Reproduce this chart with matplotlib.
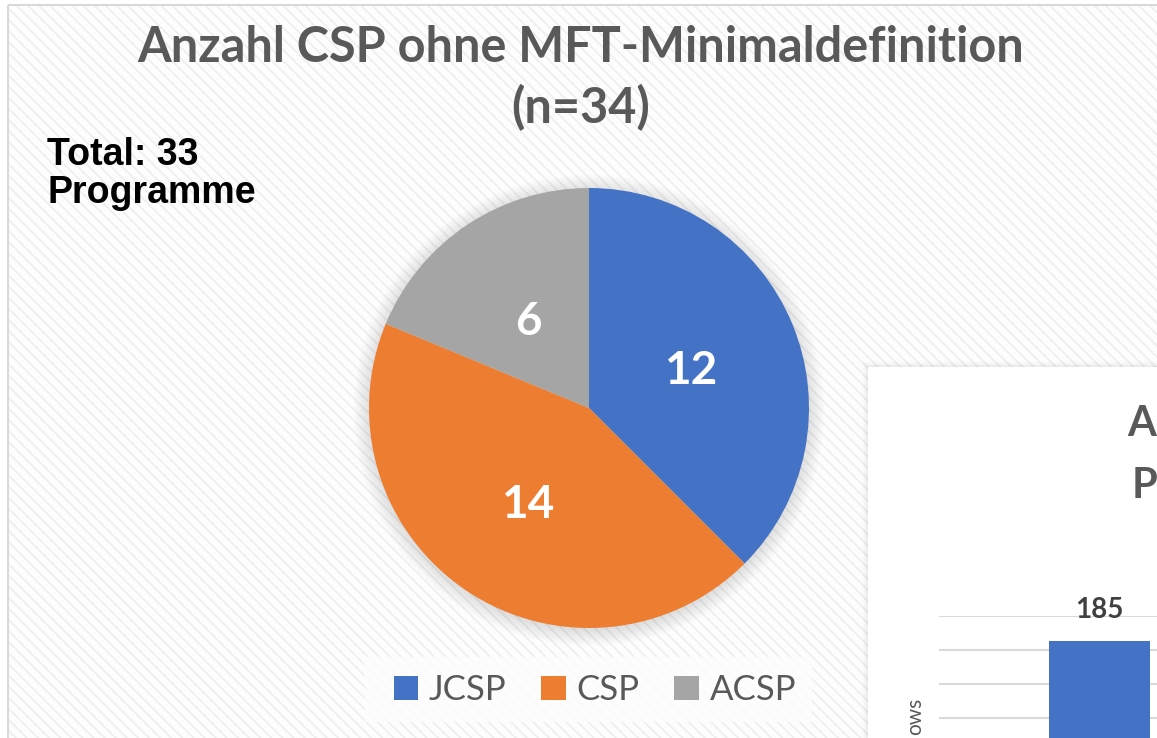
import matplotlib
matplotlib.use("Agg")
import matplotlib.pyplot as plt
from matplotlib.patches import Rectangle, Circle
import numpy as np

# ---- data ----
categories = ["JCSP", "CSP", "ACSP"]
values = [12, 14, 6]
colors = ["#4472C4", "#ED7D31", "#A5A5A5"]
title_lines = ["Anzahl CSP ohne MFT-Minimaldefinition", "(n=34)"]
note = "Total: 33\nProgramme"

bar_categories = ["Fellows"]
bar_values = [185]
bar_ticks = [0, 20, 40, 60, 80, 100, 120, 140, 160, 180, 200]

W, H = 1157, 738
plt.rcParams["hatch.linewidth"] = 1.3
fig = plt.figure(figsize=(W / 100, H / 100), dpi=100)
fig.patch.set_facecolor("white")

# background axes in pixel coordinates
bg = fig.add_axes([0, 0, 1, 1], zorder=0)
bg.set_xlim(0, W)
bg.set_ylim(H, 0)
bg.axis("off")

def fx(px):
    return px / W

def fy(py):
    return 1 - py / H

# main hatched panel
bg.add_patch(Rectangle((8, 5), W + 50, H + 50, facecolor="#fdfdfd",
                       edgecolor="#efefef", hatch="\\" * 3, lw=0))
bg.add_patch(Rectangle((8, 5), W + 50, H + 50, facecolor="none",
                       edgecolor="#d9d9d9", lw=1.5))
# legend box
bg.add_patch(Rectangle((365, 657), 447, 65, facecolor="#fdfdfd", edgecolor="none", alpha=0.85))
# right panel (second chart, cut off)
for i, a in enumerate([0.03, 0.02, 0.01]):
    bg.add_patch(Rectangle((868 - 2 - 2 * i, 367 - 2 - 2 * i), W, H, facecolor="#000000",
                           edgecolor="none", alpha=a))
bg.add_patch(Rectangle((868, 367), W, H, facecolor="white", edgecolor="none"))

# titles and note
for yb, line in zip([62, 123], title_lines):
    bg.text(581, yb, line, ha="center", va="baseline", fontsize=35, fontweight="bold",
            color="#595959", family="Lato")
bg.text(47, 137, note, ha="left", va="top", fontsize=27, fontweight="bold",
        color="black", family="Liberation Sans", linespacing=1.08)

# second chart's cut-off title and axis title
bg.text(1127, 424, "A", ha="left", va="center", fontsize=30, fontweight="bold",
        color="#595959", family="Lato")
bg.text(1132, 486, "P", ha="left", va="center", fontsize=30, fontweight="bold",
        color="#595959", family="Lato")
bg.text(915, 698, "ows", rotation=90, ha="center", va="top", fontsize=15,
        color="#595959", family="Lato")

# ---- pie ----
cx, cy, r = 589, 408, 220
pax = fig.add_axes([fx(cx - r), fy(cy + r), 2 * r / W, 2 * r / H], zorder=2)
for k, rr in enumerate(np.linspace(1.0, 1.07, 10)):
    pax.add_patch(Circle((0, -0.01), rr, color="black", alpha=0.012, lw=0, clip_on=False))
total = sum(values)
wedges, texts, autotexts = pax.pie(
    values, colors=colors, startangle=90, counterclock=False,
    autopct=lambda p: f"{round(p * total / 100)}", pctdistance=0.5,
    wedgeprops=dict(linewidth=0),
    textprops=dict(color="white", fontsize=33, fontweight="bold", family="Lato"))
for t in autotexts:
    x, y = t.get_position()
    t.set_position((x, y - 0.025))
pax.set_xlim(-1, 1)
pax.set_ylim(-1, 1)
pax.axis("off")

leg = fig.legend(wedges, categories, loc="center", bbox_to_anchor=(fx(595), fy(690)),
                 ncol=3, frameon=False, handlelength=0.7, handleheight=0.7,
                 columnspacing=1.0, handletextpad=0.32,
                 prop=dict(family="Lato", size=25))
for t in leg.get_texts():
    t.set_color("#595959")

# ---- bar chart (cut off) ----
bl, br, bt = 939, 1260, 616
px_per_unit = 33.9 / 20
bb = bt + 200 * px_per_unit
bax = fig.add_axes([fx(bl), fy(bb), (br - bl) / W, (bb - bt) / H], zorder=3)
bars = bax.bar(range(len(bar_values)), bar_values, width=101 / (br - bl), color="#4472C4")
bax.set_xlim(-0.5, 0.5)
bax.set_ylim(0, 200)
bax.set_yticks(bar_ticks)
bax.yaxis.grid(True, color="#d9d9d9", lw=1.5)
bax.set_axisbelow(True)
bax.tick_params(left=False, bottom=False, labelleft=False, labelbottom=False)
for s in bax.spines.values():
    s.set_visible(False)
bax.patch.set_alpha(0)
bax.bar_label(bars, padding=13, fontsize=20, fontweight="bold", color="#404040", family="Lato")

fig.savefig("out.png", dpi=100)
